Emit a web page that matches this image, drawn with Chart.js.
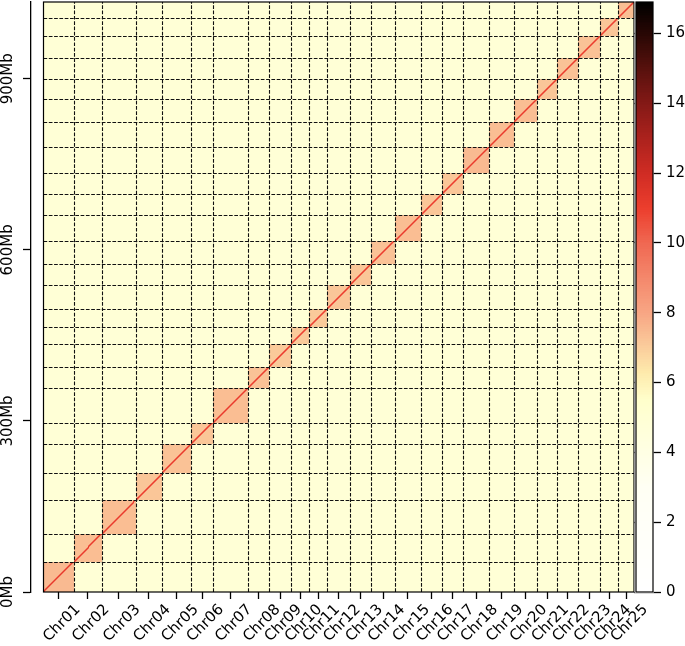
<!DOCTYPE html>
<html lang="en">
<head>
<meta charset="UTF-8">
<title>Hi-C contact map</title>
<style>
  html, body {margin: 0; padding: 0; background: #fff;}
</style>
</head>
<body>
<canvas id="myChart" width="685" height="646"></canvas>

<script src="https://cdn.jsdelivr.net/npm/chart.js@4.4.1/dist/chart.umd.min.js"></script>
<script>
// chromosomes and their lengths (Mb)
const chrNames = ['Chr01', 'Chr02', 'Chr03', 'Chr04', 'Chr05', 'Chr06', 'Chr07', 'Chr08', 'Chr09', 'Chr10',
                  'Chr11', 'Chr12', 'Chr13', 'Chr14', 'Chr15', 'Chr16', 'Chr17', 'Chr18', 'Chr19', 'Chr20',
                  'Chr21', 'Chr22', 'Chr23', 'Chr24', 'Chr25'];
const chrLengths = [52.6, 49.1, 59.6, 46.8, 50.9, 37.9, 61.4, 36.8, 39.3, 30.9,
                    31.6, 41.0, 36.8, 41.4, 45.1, 37.4, 36.8, 45.6, 43.3, 40.3,
                    35.6, 36.8, 38.6, 31.6, 27.5];

// log contact strength: inside each chromosome, on its diagonal, and between chromosomes
const intraValues = [7.5, 7.4, 7.4, 7.2, 7.3, 7.2, 7.4, 7.3, 7.1, 7.1,
                     7.1, 7.2, 7.2, 7.3, 7.4, 7.2, 7.2, 7.5, 7.4, 7.4,
                     7.2, 7.3, 7.3, 7.2, 7.4];
const diagValues = [11.2, 11.1, 11.1, 11.0, 11.1, 11.0, 11.1, 11.0, 11.0, 10.9,
                    10.9, 11.0, 11.0, 11.0, 11.1, 11.0, 11.0, 11.1, 11.1, 11.1,
                    11.0, 11.0, 11.0, 10.9, 11.0];
const nearDiagValue = 9.6;
const interValue = 4.85;
const binMb = 1.75;

// tick labels
const yTickValues = [0, 300, 600, 900];
const cbTickValues = [0, 2, 4, 6, 8, 10, 12, 14, 16];
const cbMax = 16.9;

// colour map (value, r, g, b)
const cmapStops = [
    [0, 255, 255, 255],
    [3, 255, 255, 244],
    [5.5, 255, 255, 204],
    [6.3, 254, 234, 172],
    [7.2, 250, 198, 152],
    [8, 248, 166, 132],
    [9, 244, 136, 108],
    [10, 240, 104, 82],
    [11, 236, 62, 45],
    [12, 208, 44, 36],
    [13, 172, 34, 29],
    [14, 132, 25, 22],
    [15, 88, 17, 13],
    [16, 40, 7, 4],
    [16.9, 0, 0, 0]
];

function colorFor(v) {
    for (let k = 1; k < cmapStops.length; k++) {
        const a = cmapStops[k - 1], b = cmapStops[k];
        if (v <= b[0]) {
            const t = Math.max(0, (v - a[0]) / (b[0] - a[0]));
            const c = [1, 2, 3].map(n => Math.round(a[n] + (b[n] - a[n]) * t));
            return 'rgb(' + c.join(',') + ')';
        }
    }
    return 'rgb(0,0,0)';
}

// chromosome positions on the genome axis
const chrStarts = [];
let acc = 0;
chrLengths.forEach(len => { chrStarts.push(acc); acc += len; });
const genomeSize = acc;
const chrMids = chrStarts.map((s, i) => s + chrLengths[i] / 2);
const chrBounds = chrStarts.slice(1);

// heatmap left edge sits 12.5px right of the y spine
const xMin = -genomeSize * 12.5 / 590.5;
const labelShift = 34; // Mb, moves the rotated names so they sit centred under the ticks

// cells: chromosome pairs, then the diagonal band
const cells = [];
chrStarts.forEach((sx, i) => {
    chrStarts.forEach((sy, j) => {
        cells.push({x0: sx, x1: sx + chrLengths[i], y0: sy, y1: sy + chrLengths[j],
                    v: i === j ? intraValues[i] : interValue});
    });
});
chrStarts.forEach((s, i) => {
    const end = s + chrLengths[i];
    for (let b = s; b < end; b += binMb) {
        const e = Math.min(b + binMb, end);
        if (e < end) {
            const e2 = Math.min(e + binMb, end);
            cells.push({x0: e, x1: e2, y0: b, y1: e, v: nearDiagValue});
            cells.push({x0: b, x1: e, y0: e, y1: e2, v: nearDiagValue});
        }
        cells.push({x0: b, x1: e, y0: b, y1: e, v: diagValues[i]});
    }
});

const heatmapPlugin = {
    id: 'heatmap',
    beforeDatasetsDraw(chart) {
        const {ctx, scales: {x, y}} = chart;
        ctx.save();
        chart.data.datasets[0].data.forEach(d => {
            const c = d.cell;
            const l = Math.round(x.getPixelForValue(c.x0));
            const r = Math.round(x.getPixelForValue(c.x1));
            const t = Math.round(y.getPixelForValue(c.y1));
            const b = Math.round(y.getPixelForValue(c.y0));
            ctx.fillStyle = colorFor(c.v);
            ctx.fillRect(l, t, Math.max(r - l, 1), Math.max(b - t, 1));
        });

        const left = x.getPixelForValue(0), right = x.getPixelForValue(genomeSize);
        const bottom = y.getPixelForValue(0), top = y.getPixelForValue(genomeSize);

        // dashed chromosome boundaries
        ctx.strokeStyle = '#111';
        ctx.lineWidth = 1.1;
        ctx.setLineDash([3.7, 1.6]);
        chrBounds.forEach(v => {
            const px = Math.round(x.getPixelForValue(v)) + 0.5;
            ctx.beginPath();
            ctx.moveTo(px, bottom);
            ctx.lineTo(px, top);
            ctx.stroke();
            const py = Math.round(y.getPixelForValue(v)) + 0.5;
            ctx.beginPath();
            ctx.moveTo(left, py);
            ctx.lineTo(right, py);
            ctx.stroke();
        });
        ctx.setLineDash([]);

        // frame
        ctx.strokeStyle = '#000';
        ctx.lineWidth = 1.2;
        ctx.strokeRect(left, top, right - left, bottom - top);
        ctx.restore();
    }
};

const colorbarPlugin = {
    id: 'colorbar',
    afterDraw(chart) {
        const {ctx, chartArea, scales: {yc}} = chart;
        const left = chartArea.right + 2, right = chartArea.right + 19;
        ctx.save();
        // hide the part of the tick marks that runs under the bar
        ctx.fillStyle = '#fff';
        ctx.fillRect(chartArea.right + 0.7, yc.top - 1, right - chartArea.right, yc.bottom - yc.top + 2);
        const step = 0.05;
        for (let v = 0; v < cbMax; v += step) {
            const b = Math.ceil(yc.getPixelForValue(v));
            const t = Math.floor(yc.getPixelForValue(Math.min(v + step, cbMax)));
            ctx.fillStyle = colorFor(v + step / 2);
            ctx.fillRect(left, t, right - left, Math.max(b - t, 1));
        }
        ctx.strokeStyle = '#000';
        ctx.lineWidth = 1.2;
        ctx.strokeRect(left, yc.getPixelForValue(cbMax), right - left,
                       yc.getPixelForValue(0) - yc.getPixelForValue(cbMax));
        ctx.restore();
    }
};

function noPadding(s) {
    s.paddingLeft = 0; s.paddingRight = 0; s.paddingTop = 0; s.paddingBottom = 0;
}

Chart.defaults.font.family = 'DejaVu Sans';
Chart.defaults.font.size = 15;
Chart.defaults.color = '#000';

const ctx = document.getElementById('myChart').getContext('2d');

const config = {
    type: 'scatter',
    data: {
        datasets: [{
            data: cells.map(c => ({x: (c.x0 + c.x1) / 2, y: (c.y0 + c.y1) / 2, cell: c})),
            pointRadius: 0,
            xAxisID: 'x',
            yAxisID: 'y'
        }]
    },
    options: {
        responsive: false,
        animation: false,
        events: [],
        devicePixelRatio: 1,
        layout: {padding: {top: 2, left: 0, right: 0, bottom: 0}},
        plugins: {
            legend: {display: false},
            tooltip: {enabled: false}
        },
        scales: {
            x: {
                type: 'linear',
                position: 'bottom',
                weight: 0,
                min: xMin,
                max: genomeSize,
                afterBuildTicks: s => { s.ticks = chrMids.map(v => ({value: v})); },
                afterFit: s => { s.height = 7; noPadding(s); },
                ticks: {display: false},
                grid: {drawOnChartArea: false, tickLength: 7, tickColor: '#000', tickWidth: 1.3},
                border: {display: false}
            },
            xl: {
                type: 'linear',
                position: 'bottom',
                weight: 1,
                min: xMin,
                max: genomeSize,
                afterBuildTicks: s => { s.ticks = chrMids.map(v => ({value: v + labelShift})); },
                afterFit: s => { s.height = 47; noPadding(s); },
                ticks: {
                    autoSkip: false,
                    minRotation: 45,
                    maxRotation: 45,
                    padding: 2,
                    callback: (v, i) => chrNames[i]
                },
                grid: {display: false, drawTicks: false},
                border: {display: false}
            },
            y: {
                type: 'linear',
                position: 'left',
                min: 0,
                max: genomeSize,
                afterBuildTicks: s => { s.ticks = yTickValues.map(v => ({value: v})); },
                afterFit: s => { s.width = 31; noPadding(s); },
                ticks: {
                    minRotation: 90,
                    maxRotation: 90,
                    crossAlign: 'center',
                    padding: -11,
                    callback: v => v + 'Mb'
                },
                grid: {drawOnChartArea: false, tickLength: 8, tickColor: '#000', tickWidth: 1.3},
                border: {display: true, color: '#000', width: 1.3}
            },
            yc: {
                type: 'linear',
                position: 'right',
                min: 0,
                max: cbMax,
                afterBuildTicks: s => { s.ticks = cbTickValues.map(v => ({value: v})); },
                afterFit: s => { s.width = 51; noPadding(s); },
                ticks: {padding: 5},
                grid: {drawOnChartArea: false, tickLength: 27, tickColor: '#000', tickWidth: 1.3},
                border: {display: false}
            }
        }
    },
    plugins: [heatmapPlugin, colorbarPlugin]
};

const myChart = new Chart(ctx, config);
</script>
</body>
</html>
